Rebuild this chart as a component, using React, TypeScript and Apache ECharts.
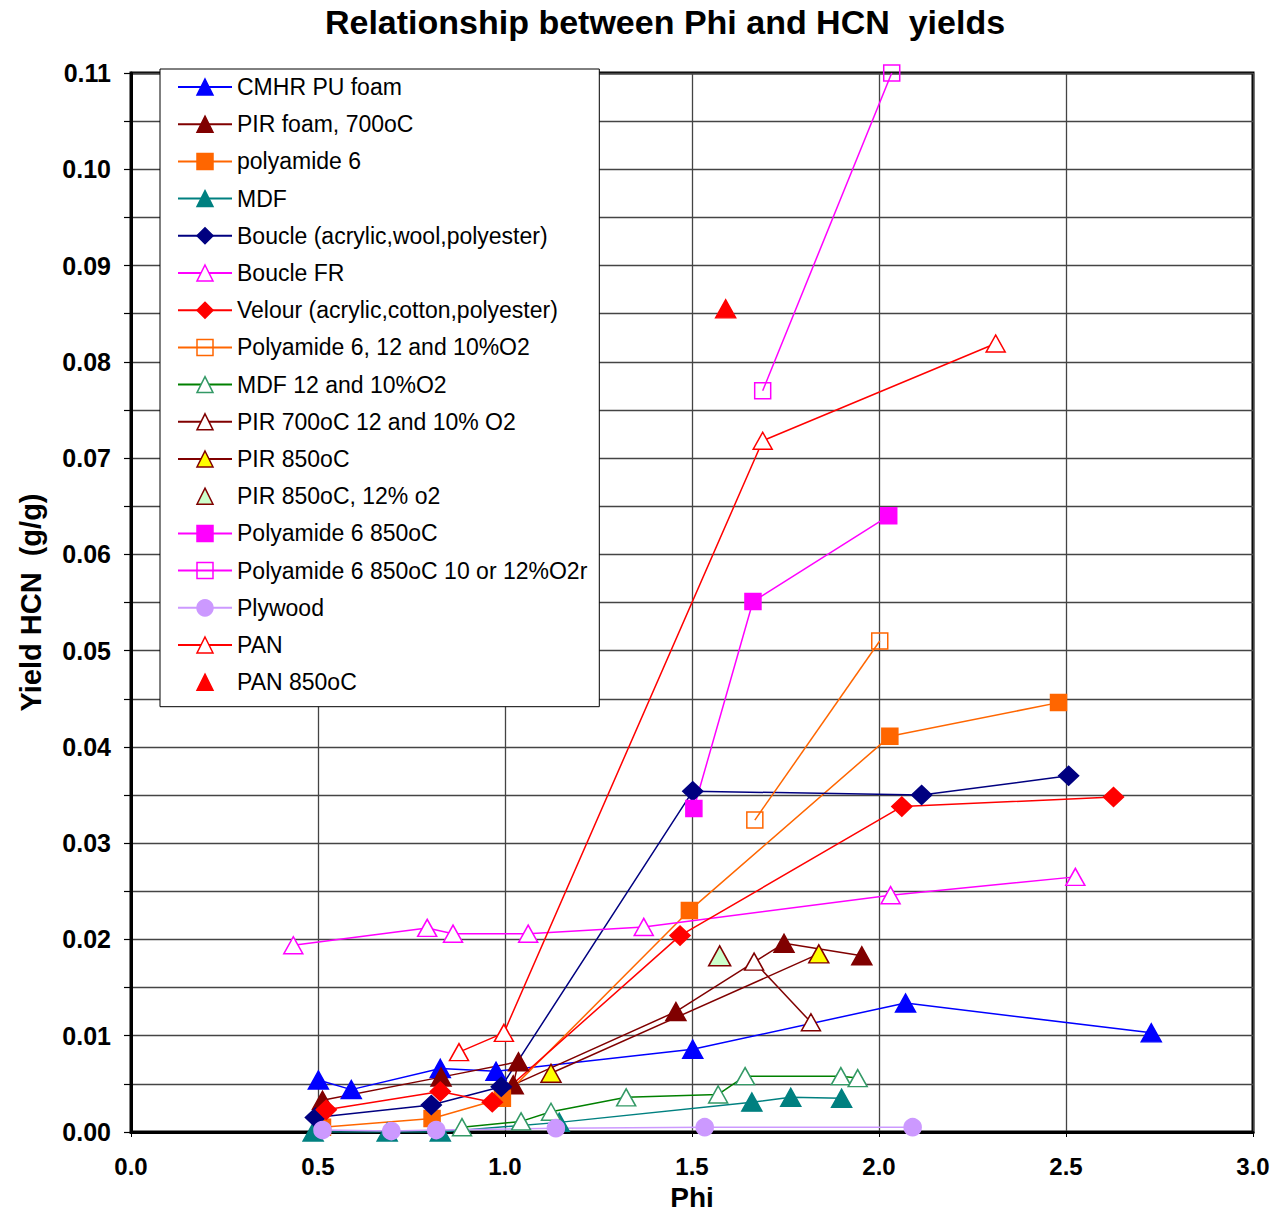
import React, { useEffect, useRef } from "react";
import * as echarts from "echarts";

const xTicks = [0, 0.5, 1.0, 1.5, 2.0, 2.5, 3.0];
const yTickLabels = ["0.00", "0.01", "0.02", "0.03", "0.04", "0.05", "0.06", "0.07", "0.08", "0.09", "0.10", "0.11"];

const cmhrPhi = [0.501, 0.589, 0.827, 0.976, 1.502, 2.071, 2.728];
const cmhrHcn = [0.0054, 0.0044, 0.0066, 0.0063, 0.0086, 0.0134, 0.0103];

const pir700Phi = [0.512, 0.829, 1.036, 1.022, 1.457, 1.746, 1.954];
const pir700Hcn = [0.0033, 0.0057, 0.0073, 0.0049, 0.0125, 0.0196, 0.0183];

const pa6Phi = [0.512, 0.805, 0.993, 1.493, 2.029, 2.48];
const pa6Hcn = [0.0005, 0.0014, 0.0035, 0.023, 0.0411, 0.0446];

const mdfPhi = [0.487, 0.685, 0.827, 1.145, 1.66, 1.764, 1.9];
const mdfHcn = [0.0, 0.0, 0.0, 0.001, 0.0031, 0.0036, 0.0035];

const bouclePhi = [0.493, 0.803, 0.99, 1.502, 2.114, 2.507];
const boucleHcn = [0.0015, 0.0028, 0.0047, 0.0354, 0.035, 0.037];

const boucleFrPhi = [0.434, 0.792, 0.861, 1.062, 1.371, 2.031, 2.525];
const boucleFrHcn = [0.0194, 0.0212, 0.0206, 0.0206, 0.0213, 0.0246, 0.0265];

const velourPhi = [0.522, 0.827, 0.966, 1.468, 2.061, 2.627];
const velourHcn = [0.0023, 0.0042, 0.0031, 0.0204, 0.0338, 0.0348];

const pa6O2Phi = [1.668, 2.002];
const pa6O2Hcn = [0.0324, 0.051];

const mdfO2Phi = [0.885, 1.043, 1.123, 1.324, 1.57, 1.642, 1.898, 1.943];
const mdfO2Hcn = [0.0005, 0.0011, 0.0021, 0.0036, 0.0039, 0.0058, 0.0058, 0.0056];

const pir700O2Phi = [1.666, 1.818];
const pir700O2Hcn = [0.0177, 0.0114];

const pir850Phi = [1.123, 1.839];
const pir850Hcn = [0.0061, 0.0185];

const pir850O2Phi = [1.574];
const pir850O2Hcn = [0.0183];

const pa6850Phi = [1.505, 1.663, 2.026];
const pa6850Hcn = [0.0336, 0.0551, 0.064];

const pa6850O2Phi = [1.689, 2.034];
const pa6850O2Hcn = [0.077, 0.11];

const plywoodPhi = [0.512, 0.696, 0.816, 1.136, 1.534, 2.09];
const plywoodHcn = [0.0002, 0.0001, 0.0002, 0.0004, 0.0005, 0.0005];

const panPhi = [0.877, 0.997, 1.689, 2.312];
const panHcn = [0.0083, 0.0103, 0.0718, 0.0819];

const pan850Phi = [1.59];
const pan850Hcn = [0.0855];

const FONT = "'Liberation Sans', Arial, sans-serif";

type Def = {
  name: string;
  phi: number[];
  hcn: number[];
  line: string;
  fill: string;
  border: string;
  symbol: string;
  size: number | number[];
  noLine?: boolean;
};

const defs: Def[] = [
  { name: "CMHR PU foam", phi: cmhrPhi, hcn: cmhrHcn, line: "#0000FF", fill: "#0000FF", border: "#0000FF", symbol: "triangle", size: [20, 18] },
  { name: "PIR foam, 700oC", phi: pir700Phi, hcn: pir700Hcn, line: "#800000", fill: "#800000", border: "#800000", symbol: "triangle", size: [20, 18] },
  { name: "polyamide 6", phi: pa6Phi, hcn: pa6Hcn, line: "#FF6600", fill: "#FF6600", border: "#FF6600", symbol: "rect", size: 16 },
  { name: "MDF", phi: mdfPhi, hcn: mdfHcn, line: "#008080", fill: "#008080", border: "#008080", symbol: "triangle", size: [20, 18] },
  { name: "Boucle (acrylic,wool,polyester)", phi: bouclePhi, hcn: boucleHcn, line: "#000080", fill: "#000080", border: "#000080", symbol: "diamond", size: [20, 19] },
  { name: "Boucle FR", phi: boucleFrPhi, hcn: boucleFrHcn, line: "#FF00FF", fill: "#FFFFFF", border: "#FF00FF", symbol: "triangle", size: [19, 17] },
  { name: "Velour (acrylic,cotton,polyester)", phi: velourPhi, hcn: velourHcn, line: "#FF0000", fill: "#FF0000", border: "#FF0000", symbol: "diamond", size: [20, 19] },
  { name: "Polyamide 6, 12 and 10%O2", phi: pa6O2Phi, hcn: pa6O2Hcn, line: "#FF6600", fill: "rgba(255,255,255,0)", border: "#FF6600", symbol: "rect", size: 16 },
  { name: "MDF 12 and 10%O2", phi: mdfO2Phi, hcn: mdfO2Hcn, line: "#008000", fill: "#FFFFFF", border: "#339966", symbol: "triangle", size: [19, 17] },
  { name: "PIR 700oC 12 and 10% O2", phi: pir700O2Phi, hcn: pir700O2Hcn, line: "#800000", fill: "#FFFFFF", border: "#800000", symbol: "triangle", size: [19, 17] },
  { name: "PIR 850oC", phi: pir850Phi, hcn: pir850Hcn, line: "#800000", fill: "#FFFF00", border: "#800000", symbol: "triangle", size: [20, 18] },
  { name: "PIR 850oC, 12% o2", phi: pir850O2Phi, hcn: pir850O2Hcn, line: "#800000", fill: "#CCFFCC", border: "#800000", symbol: "triangle", size: [22, 20], noLine: true },
  { name: "Polyamide 6 850oC", phi: pa6850Phi, hcn: pa6850Hcn, line: "#FF00FF", fill: "#FF00FF", border: "#FF00FF", symbol: "rect", size: 16 },
  { name: "Polyamide 6 850oC 10 or 12%O2r", phi: pa6850O2Phi, hcn: pa6850O2Hcn, line: "#FF00FF", fill: "rgba(255,255,255,0)", border: "#FF00FF", symbol: "rect", size: 16 },
  { name: "Plywood", phi: plywoodPhi, hcn: plywoodHcn, line: "#CC99FF", fill: "#CC99FF", border: "#CC99FF", symbol: "circle", size: 17 },
  { name: "PAN", phi: panPhi, hcn: panHcn, line: "#FF0000", fill: "#FFFFFF", border: "#FF0000", symbol: "triangle", size: [19, 17] },
  { name: "PAN 850oC", phi: pan850Phi, hcn: pan850Hcn, line: "#FF0000", fill: "#FF0000", border: "#FF0000", symbol: "triangle", size: [20, 18], noLine: true },
];

export default function App() {
  const ref = useRef<HTMLDivElement>(null);
  useEffect(() => {
    if (!ref.current) return;
    const chart = echarts.init(ref.current, null, { renderer: "svg" });
    const series = defs.map((d) => ({
      name: d.name,
      type: "line",
      data: d.phi.map((p, i) => [p, d.hcn[i]]),
      symbol: d.symbol,
      symbolSize: d.size,
      showSymbol: true,
      showAllSymbol: true,
      color: d.line,
      lineStyle: { color: d.line, width: 1.5, opacity: d.noLine ? 0 : 1 },
      itemStyle: { color: d.fill, borderColor: d.border, borderWidth: 1.5 },
      emphasis: { disabled: true },
    }));
    chart.setOption({
      animation: false,
      textStyle: { fontFamily: FONT },
      title: {
        text: "Relationship between Phi and HCN  yields",
        left: 660,
        textAlign: "center",
        top: 0,
        textStyle: { fontFamily: FONT, fontWeight: "bold", fontSize: 34, color: "#000" },
      },
      legend: {
        orient: "vertical",
        left: 160,
        top: 69,
        itemWidth: 54,
        itemHeight: 20,
        itemGap: 14.2,
        padding: [6.5, 12, 13, 17],
        backgroundColor: "#FFFFFF",
        borderColor: "#000000",
        borderWidth: 1,
        selectedMode: false,
        itemStyle: { borderWidth: 1.5 },
        textStyle: { fontFamily: FONT, fontSize: 23, color: "#000" },
        data: defs.map((d) => d.name),
      },
      grid: {
        left: 131,
        top: 73,
        width: 1122,
        height: 1059,
        show: true,
        borderColor: "#000",
        borderWidth: 3,
        backgroundColor: "transparent",
        containLabel: false,
        outerBoundsMode: "none",
      },
      xAxis: {
        type: "value",
        min: xTicks[0],
        max: xTicks[xTicks.length - 1],
        interval: 0.5,
        name: "Phi",
        nameLocation: "middle",
        nameGap: 51,
        nameTextStyle: { fontFamily: FONT, fontWeight: "bold", fontSize: 28, color: "#000" },
        axisLine: { show: true, lineStyle: { color: "#000", width: 3 } },
        axisTick: { show: true, length: 5, lineStyle: { color: "#000", width: 1 } },
        axisLabel: {
          margin: 22,
          fontFamily: FONT,
          fontWeight: "bold",
          fontSize: 24,
          color: "#000",
          formatter: (v: number) => {
            const idx = xTicks.findIndex((t) => Math.abs(t - v) < 1e-6);
            return idx >= 0 ? xTicks[idx].toFixed(1) : "";
          },
        },
        splitLine: { show: true, lineStyle: { color: "#444", width: 1.3 } },
      },
      yAxis: {
        type: "value",
        min: 0,
        max: 0.11,
        interval: 0.005,
        name: "Yield HCN  (g/g)",
        nameLocation: "middle",
        nameGap: 86,
        nameTextStyle: { fontFamily: FONT, fontWeight: "bold", fontSize: 29, color: "#000" },
        axisLine: { show: true, lineStyle: { color: "#000", width: 3 } },
        axisTick: { show: true, length: 7, lineStyle: { color: "#000", width: 1.2 } },
        axisLabel: {
          margin: 20,
          fontFamily: FONT,
          fontWeight: "bold",
          fontSize: 25,
          color: "#000",
          formatter: (v: number) => {
            const k = Math.round(v * 1000);
            if (k % 10 !== 0) return "";
            return yTickLabels[k / 10] ?? "";
          },
        },
        splitLine: { show: true, lineStyle: { color: "#444", width: 1.3 } },
      },
      series,
    });
    return () => chart.dispose();
  }, []);
  return (
    <div
      ref={ref}
      style={{ position: "absolute", left: 0, top: 0, width: 1274, height: 1212, background: "#fff" }}
    />
  );
}
